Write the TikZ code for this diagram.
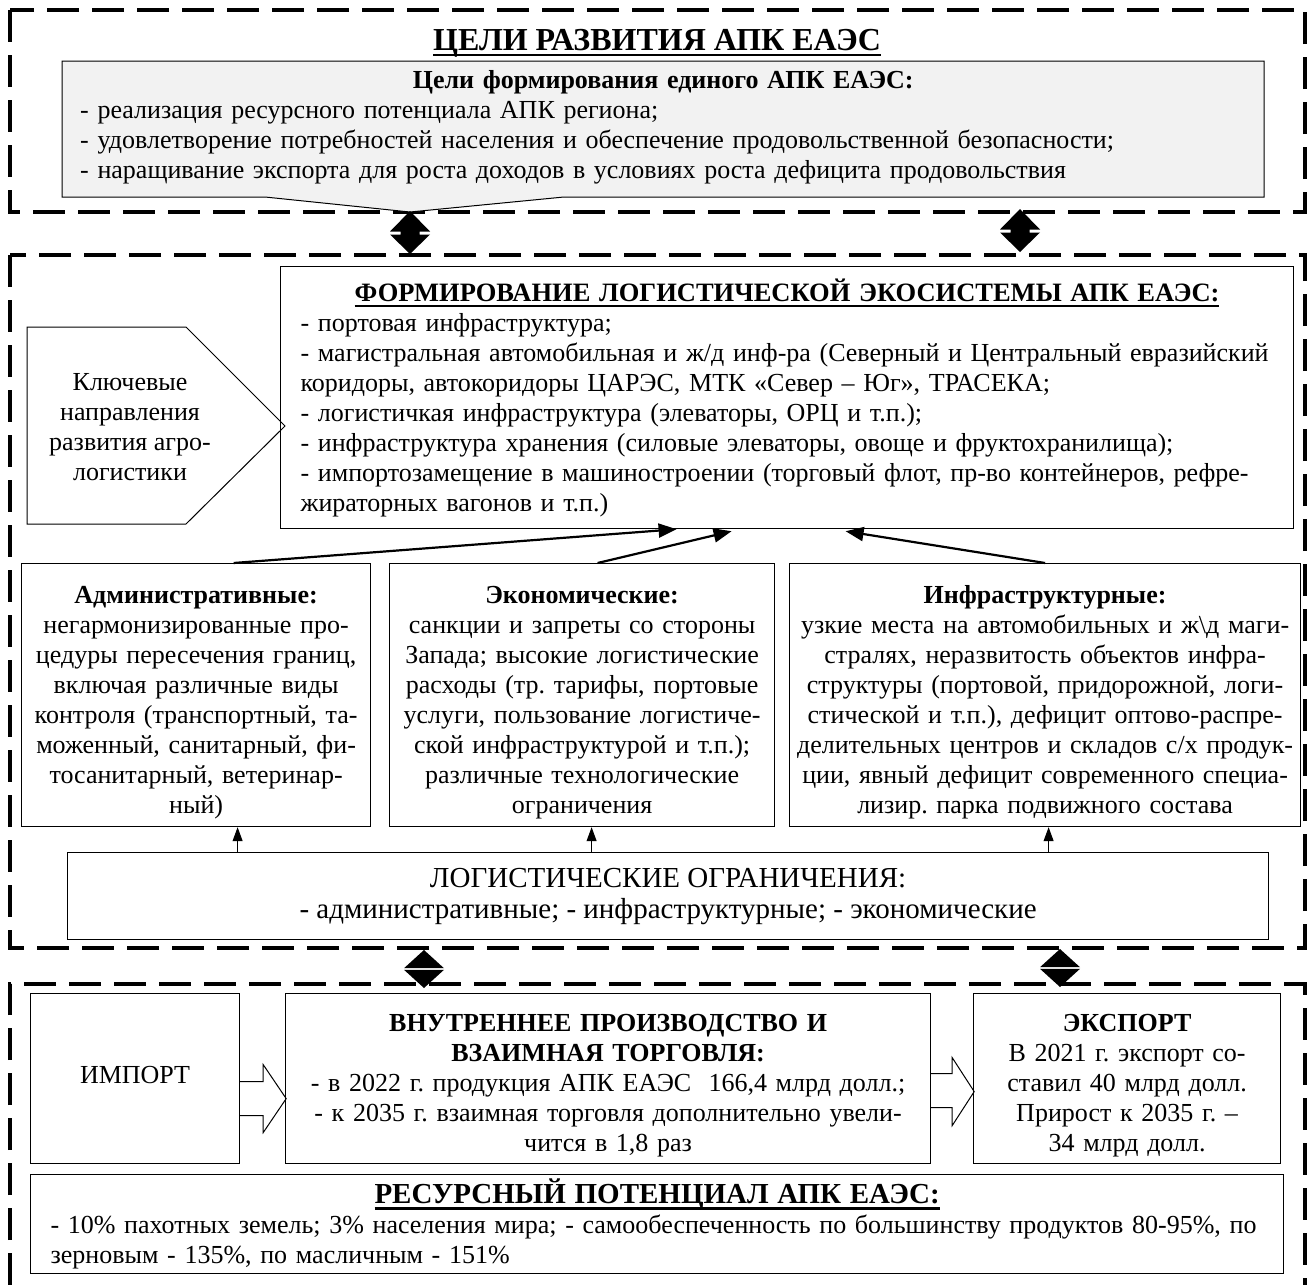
\documentclass[tikz,border=0pt]{standalone}
\usepackage{fontspec}
\setmainfont{Liberation Serif}
\usepackage{tikz}
\usetikzlibrary{arrows.meta,calc}

\definecolor{goalgray}{HTML}{F2F2F2}
\newcommand\txt{\fontsize{26}{30}\selectfont}
\newcommand\logtxt{\fontsize{29}{31}\selectfont}
\newcommand\ttl{\fontsize{32}{34}\selectfont\bfseries}
\newcommand\hdr{\fontsize{26.5}{30}\selectfont\bfseries}
\newcommand\reshdr{\fontsize{29}{30}\selectfont\bfseries}
\newcommand\ulhead[1]{\setbox0\hbox{#1}\rlap{\rule[-6pt]{\wd0}{2.5pt}}\box0}

\tikzset{
  frame/.style={line width=4pt, dash pattern=on 32pt off 13pt},
  box/.style={draw, line width=1.2pt, anchor=north west, inner sep=0pt, font=\txt},
  pushdown/.style={execute at begin node={\rule{0pt}{#1}}},
  bigarr/.style={line width=2.2pt, -{Triangle[length=18pt,width=14pt]}},
  thinarr/.style={line width=1pt, -{Triangle[length=14pt,width=10pt]}},
  hollow/.style={line width=1pt},
  dblarr/.pic={\fill (0,-22) -- (20,-1.5) -- (9.5,-1.5) -- (9.5,1.5) -- (20,1.5) -- (0,21) -- (-20,1.5) -- (-9.5,1.5) -- (-9.5,-1.5) -- (-20,-1.5) -- cycle;},
  diamarr/.pic={\fill (0,-19) -- (20,-0.8) -- (-20,-0.8) -- cycle; \fill (0,19) -- (20,0.8) -- (-20,0.8) -- cycle;},
}

\begin{document}
\frenchspacing
\begin{tikzpicture}[x=1pt,y=-1pt]
\useasboundingbox (0,0) rectangle (1312,1285);
%рамки
\draw[frame] (10,10) rectangle (1305,212);
\draw[frame] (10,255) rectangle (1305,948);
\draw[frame] (10,1285) -- (10,984) -- (1305,984) -- (1305,1285);
%цели
\node[font=\ttl, anchor=base] (title) at (657,50) {\ulhead{ЦЕЛИ РАЗВИТИЯ АПК ЕАЭС}};
\draw[fill=goalgray, line width=1pt] (62,61) -- (1264,61) -- (1264,197) -- (564,197) -- (410,212) -- (265,197) -- (62,197) -- cycle;
\node[font=\txt, anchor=base west, inner xsep=18pt, inner ysep=0pt, text width=1166pt, align=left] (goals) at (62,88)
  {\makebox[\linewidth]{\bfseries Цели формирования единого АПК ЕАЭС:}\\
   - реализация ресурсного потенциала АПК региона;\\
   - удовлетворение потребностей населения и обеспечение продовольственной безопасности;\\
   - наращивание экспорта для роста доходов в условиях роста дефицита продовольствия};
\pic at (410,233) {dblarr};
\pic at (1020,231) {dblarr};
%экосистема
\draw[line width=1pt] (27,327) -- (186,327) -- (285,426) -- (186,524) -- (27,524) -- cycle;
\node[font=\txt, align=center] (keydir) at (130,427) {Ключевые\\направления\\развития агро-\\логистики};
\node[box, minimum width=1013pt, minimum height=262pt, text width=973pt, align=left] (form) at (280,266)
  {\makebox[\linewidth]{\hdr\ulhead{ФОРМИРОВАНИЕ ЛОГИСТИЧЕСКОЙ ЭКОСИСТЕМЫ АПК ЕАЭС:}}\\
   - портовая инфраструктура;\\
   \mbox{- магистральная автомобильная и ж/д инф-ра (Северный и Центральный евразийский}\\
   коридоры, автокоридоры ЦАРЭС, МТК «Север – Юг», ТРАСЕКА;\\
   - логистичкая инфраструктура (элеваторы, ОРЦ и т.п.);\\
   - инфраструктура хранения (силовые элеваторы, овоще и фруктохранилища);\\
   \mbox{- импортозамещение в машиностроении (торговый флот, пр-во контейнеров, рефре-}\\
   жираторных вагонов и т.п.)};
%ограничения
\node[box, pushdown=32pt, minimum width=349pt, minimum height=263pt, text width=345pt, align=center] (admin) at (21,563)
  {\textbf{Административные:}\\негармонизированные про-\\цедуры пересечения границ,\\включая различные виды\\контроля (транспортный, та-\\моженный, санитарный, фи-\\тосанитарный, ветеринар-\\ный)};
\node[box, pushdown=32pt, minimum width=385pt, minimum height=263pt, text width=380pt, align=center] (econ) at (389,563)
  {\textbf{Экономические:}\\санкции и запреты со стороны\\Запада; высокие логистические\\расходы (тр. тарифы, портовые\\услуги, пользование логистиче-\\ской инфраструктурой и т.п.);\\различные технологические\\ограничения};
\node[box, pushdown=32pt, minimum width=511pt, minimum height=263pt, text width=506pt, align=center] (infra) at (789,563)
  {\textbf{Инфраструктурные:}\\узкие места на автомобильных и ж\textbackslash д маги-\\стралях, неразвитость объектов инфра-\\структуры (портовой, придорожной, логи-\\стической и т.п.), дефицит оптово-распре-\\делительных центров и складов с/х продук-\\ции, явный дефицит современного специа-\\лизир. парка подвижного состава};
\draw[bigarr] ($(admin.north)+(37.5,0)$) -- ($(form.south)+(-110.5,0)$);
\draw[bigarr] ($(econ.north)+(15.5,0)$) -- ($(form.south)+(-55.5,2)$);
\draw[bigarr] (infra.north) -- ($(form.south)+(58.5,2)$);
\node[box, pushdown=35pt, minimum width=1201pt, minimum height=87pt, align=center, font=\logtxt] (limits) at (67,852)
  {ЛОГИСТИЧЕСКИЕ ОГРАНИЧЕНИЯ:\\- административные; - инфраструктурные; - экономические};
\draw[thinarr] ($(limits.north)+(-430.5,0)$) -- ($(admin.south)+(41.5,0)$);
\draw[thinarr] ($(limits.north)+(-76.5,0)$) -- ($(econ.south)+(9.5,0)$);
\draw[thinarr] ($(limits.north)+(380.5,0)$) -- ($(infra.south)+(3.5,0)$);
\pic at (424,969) {diamarr};
\pic at (1060,968) {diamarr};
%торговля
\node[box, minimum width=209pt, minimum height=170pt] (imp) at (30,993) {\raisebox{8pt}{ИМПОРТ}};
\node[box, pushdown=31pt, minimum width=645pt, minimum height=170pt, text width=630pt, align=center] (dom) at (285,993)
  {\textbf{ВНУТРЕННЕЕ ПРОИЗВОДСТВО И}\\\textbf{ВЗАИМНАЯ ТОРГОВЛЯ:}\\- в 2022 г. продукция АПК ЕАЭС\ \ 166,4 млрд долл.;\\- к 2035 г. взаимная торговля дополнительно увели-\\чится в 1,8 раз};
\node[box, pushdown=31pt, minimum width=307pt, minimum height=170pt, text width=300pt, align=center] (exp) at (973,993)
  {\textbf{ЭКСПОРТ}\\В 2021 г. экспорт со-\\ставил 40 млрд долл.\\Прирост к 2035 г. –\\34 млрд долл.};
\draw[hollow] ($(imp.east)+(0,3)$) -- ++(23,0) -- ++(0,-17) -- ++(23,34) -- ++(-23,34) -- ++(0,-17) -- ++(-23,0);
\draw[hollow] ($(dom.east)+(0,-5)$) -- ++(21,0) -- ++(0,-16) -- ++(22,34) -- ++(-22,34) -- ++(0,-18) -- ++(-21,0);
%ресурсы
\node[box, minimum width=1253pt, minimum height=99pt, text width=1213pt, align=left] (res) at (30,1174)
  {\makebox[\linewidth]{\reshdr\ulhead{РЕСУРСНЫЙ ПОТЕНЦИАЛ АПК ЕАЭС:}}\\
   \mbox{- 10\% пахотных земель; 3\% населения мира; - самообеспеченность по большинству продуктов 80-95\%, по}\\
   зерновым - 135\%, по масличным - 151\%};
\end{tikzpicture}
\end{document}
